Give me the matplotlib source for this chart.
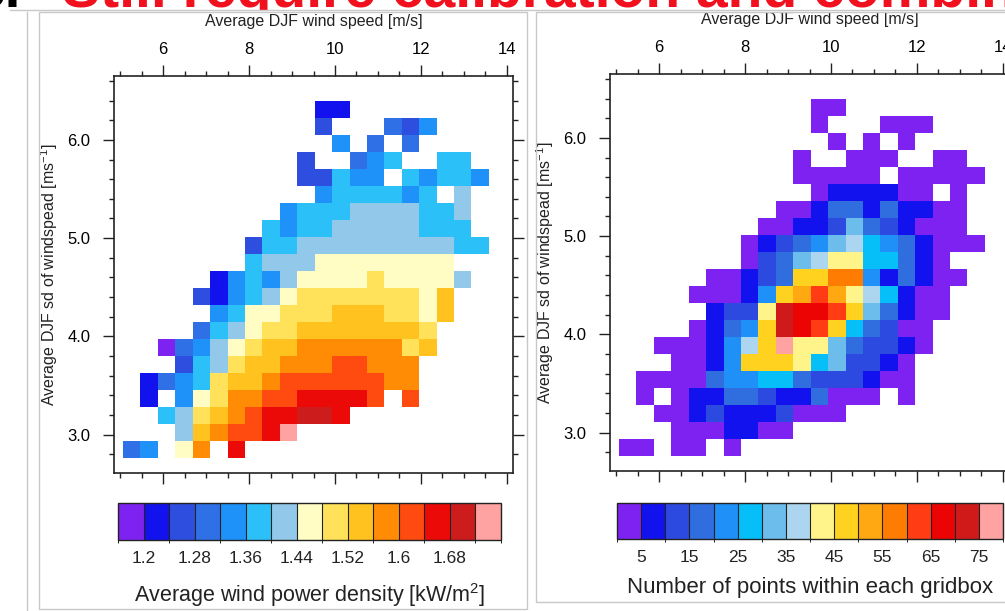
"""
Wind power density and point counts binned by average DJF wind speed
and its standard deviation (two gridbox panels with label bars).
"""
import numpy as np
import matplotlib
matplotlib.use('Agg')
import matplotlib.pyplot as plt
from matplotlib.colors import ListedColormap, BoundaryNorm
from matplotlib.ticker import MultipleLocator, FormatStrFormatter
from matplotlib.patches import Rectangle
from matplotlib.lines import Line2D

plt.rcParams['font.family'] = ['Liberation Sans', 'DejaVu Sans']
plt.rcParams['mathtext.default'] = 'regular'

n = np.nan

# gridbox edges
speed_edges = np.linspace(5.07, 13.58, 22)   # m/s
sd_edges = np.linspace(2.763, 6.40, 22)      # m/s

# average wind power density [kW/m2], rows from highest sd down to lowest
power = [
    [n, n, n, n, n, n, n, n, n, n, n, 1.22, 1.22, n, n, n, n, n, n, n, n],
    [n, n, n, n, n, n, n, n, n, n, n, 1.26, n, n, n, 1.30, 1.26, 1.34, n, n, n],
    [n, n, n, n, n, n, n, n, n, n, n, n, 1.34, n, 1.30, n, 1.30, n, n, n, n],
    [n, n, n, n, n, n, n, n, n, n, 1.26, n, n, 1.30, 1.34, 1.38, n, n, 1.38, 1.38, n],
    [n, n, n, n, n, n, n, n, n, n, 1.26, 1.26, 1.38, 1.34, 1.34, n, 1.38, 1.34, 1.38, 1.38, 1.34],
    [n, n, n, n, n, n, n, n, n, n, n, 1.34, 1.38, 1.38, 1.38, 1.38, 1.34, 1.38, n, 1.42, n],
    [n, n, n, n, n, n, n, n, n, 1.34, 1.38, 1.38, 1.38, 1.42, 1.42, 1.42, 1.42, 1.38, 1.38, 1.42, n],
    [n, n, n, n, n, n, n, n, 1.38, 1.34, 1.38, 1.38, 1.42, 1.42, 1.42, 1.42, 1.42, 1.38, 1.38, 1.38, n],
    [n, n, n, n, n, n, n, 1.26, 1.38, 1.38, 1.42, 1.42, 1.42, 1.42, 1.42, 1.42, 1.42, 1.42, 1.42, 1.38, 1.38],
    [n, n, n, n, n, n, n, 1.38, 1.42, 1.42, 1.42, 1.46, 1.46, 1.46, 1.46, 1.46, 1.46, 1.46, 1.46, n, n],
    [n, n, n, n, n, 1.22, 1.34, 1.38, 1.34, 1.42, 1.46, 1.46, 1.46, 1.46, 1.50, 1.46, 1.46, 1.46, 1.46, 1.42, n],
    [n, n, n, n, 1.26, 1.22, 1.34, 1.38, 1.42, 1.46, 1.50, 1.50, 1.50, 1.50, 1.50, 1.50, 1.50, 1.46, 1.54, n, n],
    [n, n, n, n, n, 1.34, 1.38, 1.46, 1.46, 1.50, 1.50, 1.50, 1.54, 1.54, 1.54, 1.50, 1.50, 1.46, 1.54, n, n],
    [n, n, n, n, 1.30, 1.38, 1.42, 1.46, 1.50, 1.50, 1.54, 1.54, 1.54, 1.54, 1.54, 1.54, 1.54, 1.50, n, n, n],
    [n, n, 1.18, 1.30, 1.34, 1.42, 1.46, 1.50, 1.54, 1.54, 1.58, 1.58, 1.58, 1.58, 1.58, 1.58, 1.50, 1.54, n, n, n],
    [n, n, n, 1.26, 1.38, 1.42, 1.50, 1.54, 1.54, 1.58, 1.58, 1.58, 1.62, 1.62, 1.58, 1.58, 1.58, n, n, n, n],
    [n, 1.22, 1.30, 1.34, 1.38, 1.50, 1.54, 1.54, 1.58, 1.62, 1.62, 1.62, 1.62, 1.62, 1.62, 1.58, 1.58, n, n, n, n],
    [n, 1.22, n, 1.34, 1.46, 1.50, 1.58, 1.58, 1.62, 1.62, 1.66, 1.66, 1.66, 1.66, 1.62, n, 1.62, n, n, n, n],
    [n, n, 1.38, 1.42, 1.50, 1.54, 1.58, 1.62, 1.66, 1.66, 1.70, 1.70, 1.66, n, n, n, n, n, n, n, n],
    [n, n, n, 1.42, 1.54, 1.58, 1.62, 1.62, 1.66, 1.74, n, n, n, n, n, n, n, n, n, n, n],
    [1.30, 1.34, n, 1.46, 1.58, n, 1.66, n, n, n, n, n, n, n, n, n, n, n, n, n, n],
]

# number of points within each gridbox, same layout
counts = [
    [n, n, n, n, n, n, n, n, n, n, n, 3, 3, n, n, n, n, n, n, n, n],
    [n, n, n, n, n, n, n, n, n, n, n, 3, n, n, n, 3, 3, 3, n, n, n],
    [n, n, n, n, n, n, n, n, n, n, n, n, 3, n, 3, n, 3, n, n, n, n],
    [n, n, n, n, n, n, n, n, n, n, 3, n, n, 3, 3, 3, n, n, 3, 3, n],
    [n, n, n, n, n, n, n, n, n, n, 3, 3, 3, 3, 3, n, 3, 3, 3, 3, 3],
    [n, n, n, n, n, n, n, n, n, n, n, 3, 7, 7, 7, 7, 3, 3, n, 3, n],
    [n, n, n, n, n, n, n, n, n, 3, 3, 7, 17, 17, 7, 17, 7, 7, 3, 3, n],
    [n, n, n, n, n, n, n, n, 3, 3, 7, 7, 12, 32, 17, 12, 7, 3, 3, 3, n],
    [n, n, n, n, n, n, n, 3, 7, 12, 17, 22, 32, 37, 27, 22, 17, 7, 3, 3, 3],
    [n, n, n, n, n, n, n, 3, 12, 17, 32, 37, 42, 42, 27, 27, 17, 7, 3, n, n],
    [n, n, n, n, n, 3, 3, 7, 12, 17, 47, 47, 57, 57, 22, 7, 17, 7, 3, 3, n],
    [n, n, n, n, 3, 3, 3, 7, 22, 47, 52, 62, 52, 42, 37, 27, 7, 3, 3, n, n],
    [n, n, n, n, n, 7, 12, 12, 42, 72, 67, 67, 62, 47, 32, 17, 7, 3, 3, n, n],
    [n, n, n, n, 3, 7, 17, 22, 47, 72, 67, 62, 47, 27, 17, 12, 3, 3, n, n, n],
    [n, n, 3, 3, 3, 7, 22, 37, 47, 78, 42, 42, 32, 17, 12, 12, 7, 3, n, n, n],
    [n, n, n, 3, 3, 7, 22, 47, 47, 47, 42, 27, 32, 12, 12, 7, 3, n, n, n, n],
    [n, 3, 3, 3, 3, 17, 22, 22, 27, 27, 17, 12, 12, 12, 7, 3, 3, n, n, n, n],
    [n, 3, n, 3, 7, 7, 17, 17, 12, 7, 7, 17, 3, 3, 3, n, 3, n, n, n, n],
    [n, n, 3, 3, 7, 12, 7, 7, 7, 12, 3, 3, 3, n, n, n, n, n, n, n, n],
    [n, n, n, 3, 3, 3, 7, 7, 3, 3, n, n, n, n, n, n, n, n, n, n, n],
    [3, 3, n, 3, 3, n, 3, n, n, n, n, n, n, n, n, n, n, n, n, n, n],
]

power_levels = np.round(np.arange(1.16, 1.77, 0.04), 2)
power_ticks = [1.2, 1.28, 1.36, 1.44, 1.52, 1.6, 1.68]
power_colors = ['#7d22f0', '#1212ee', '#2e4ee0', '#2f70e6', '#1e92f8', '#2cc0f8', '#92c8ea',
                '#fffcc4', '#ffe25a', '#ffc21e', '#ff8c04', '#ff4a10', '#ec0a08', '#cc1c1c', '#ffa2a2']

count_levels = np.arange(0, 81, 5)
count_ticks = [5, 15, 25, 35, 45, 55, 65, 75]
count_colors = ['#7d22f0', '#1212ee', '#2c4ae0', '#306ee0', '#1e90f8', '#06bef8', '#6cbcec', '#acd6f0',
                '#fff48a', '#ffd220', '#ffa812', '#ff7c02', '#ff3c14', '#ec0404', '#d01a1a', '#ffa2a2']

W, H = 1005, 611
fig = plt.figure(figsize=(W / 100, H / 100), dpi=100)


def px(x0, y0, x1, y1):
    # pixel box (top-left origin) -> figure fraction rect
    return [x0 / W, 1 - y1 / H, (x1 - x0) / W, (y1 - y0) / H]


def style_axes(ax):
    ax.set_xlim(4.86, 14.14)
    ax.set_ylim(2.61, 6.65)
    ax.xaxis.set_major_locator(MultipleLocator(2))
    ax.xaxis.set_minor_locator(MultipleLocator(0.5))
    ax.yaxis.set_major_locator(MultipleLocator(1))
    ax.yaxis.set_minor_locator(MultipleLocator(0.2))
    ax.yaxis.set_major_formatter(FormatStrFormatter('%.1f'))
    ax.tick_params(which='both', direction='out', top=True, bottom=True, left=True, right=True,
                   labeltop=True, labelbottom=False, labelleft=True, labelright=False,
                   width=1, color='#222222')
    ax.tick_params(which='major', length=8, labelsize=12)
    ax.tick_params(which='minor', length=3.5)
    ax.tick_params(axis='x', pad=6)
    ax.tick_params(axis='y', pad=9)
    for sp in ax.spines.values():
        sp.set_linewidth(1.2)
        sp.set_color('#222222')
    ax.xaxis.set_label_position('top')
    ax.set_xlabel('Average DJF wind speed [m/s]', fontsize=11.5, labelpad=11, color='#222222')
    ax.set_ylabel('Average DJF sd of windspead [ms$^{-1}$]', fontsize=11.5, labelpad=5,
                  color='#222222')


def label_bar(mesh, rect, ticks, labels, title, title_xy, title_size):
    cax = fig.add_axes(rect)
    cb = fig.colorbar(mesh, cax=cax, orientation='horizontal', drawedges=True, ticks=ticks)
    cb.outline.set_linewidth(1)
    cb.outline.set_edgecolor('#222222')
    cb.dividers.set_linewidth(0.8)
    cb.dividers.set_color('#222222')
    cb.set_ticklabels(labels)
    cax.tick_params(length=0, labelsize=12.5, pad=8, colors='#222222')
    fig.text(title_xy[0] / W, 1 - title_xy[1] / H, title, fontsize=title_size,
             ha='center', va='center', color='#222222')


# slide heading, mostly hidden behind the white chart image
fig.text(-26 / W, 1 - 7.3 / H, '3.', color='black', fontsize=41, fontweight='bold',
         va='baseline', zorder=-3)
fig.text(62 / W, 1 - 7.3 / H, 'Still require calibration and combination', color='#f0101e',
         fontsize=41, fontweight='bold', va='baseline', zorder=-3)
fig.add_artist(Rectangle((0, 0), 1, 1 - 9.5 / H, fc='white', ec='none', zorder=-2))

# slide decoration: frames around the two chart images
deco = '#c8c8c8'
fig.add_artist(Line2D([10 / W, 1], [1 - 10 / H] * 2, color=deco, lw=1))
fig.add_artist(Line2D([27 / W] * 2, [1 - 12 / H, 0], color=deco, lw=1))
fig.add_artist(Rectangle((39 / W, 1 - 609 / H), 488 / W, 597 / H, fill=False, ec=deco, lw=1))
fig.add_artist(Rectangle((536 / W, 1 - 602 / H), 480 / W, 590 / H, fill=False, ec=deco, lw=1))

# left: wind power density
ax1 = fig.add_axes(px(114, 76, 513, 473))
cmap1 = ListedColormap(power_colors)
norm1 = BoundaryNorm(power_levels, cmap1.N)
m1 = ax1.pcolormesh(speed_edges, sd_edges, np.flipud(np.array(power)), cmap=cmap1, norm=norm1)
style_axes(ax1)
label_bar(m1, px(118, 503, 501, 540), power_ticks, [str(t) for t in power_ticks],
          'Average wind power density [kW/m$^2$]', (310, 595), 15.5)

# right: number of points per gridbox
ax2 = fig.add_axes(px(610, 74, 1009, 471))
cmap2 = ListedColormap(count_colors)
norm2 = BoundaryNorm(count_levels, cmap2.N)
m2 = ax2.pcolormesh(speed_edges, sd_edges, np.flipud(np.array(counts, dtype=float)), cmap=cmap2, norm=norm2)
style_axes(ax2)
label_bar(m2, px(617, 503, 1003, 539), count_ticks, [str(t) for t in count_ticks],
          'Number of points within each gridbox', (810, 588), 16)

fig.savefig('out.png', dpi=100)
